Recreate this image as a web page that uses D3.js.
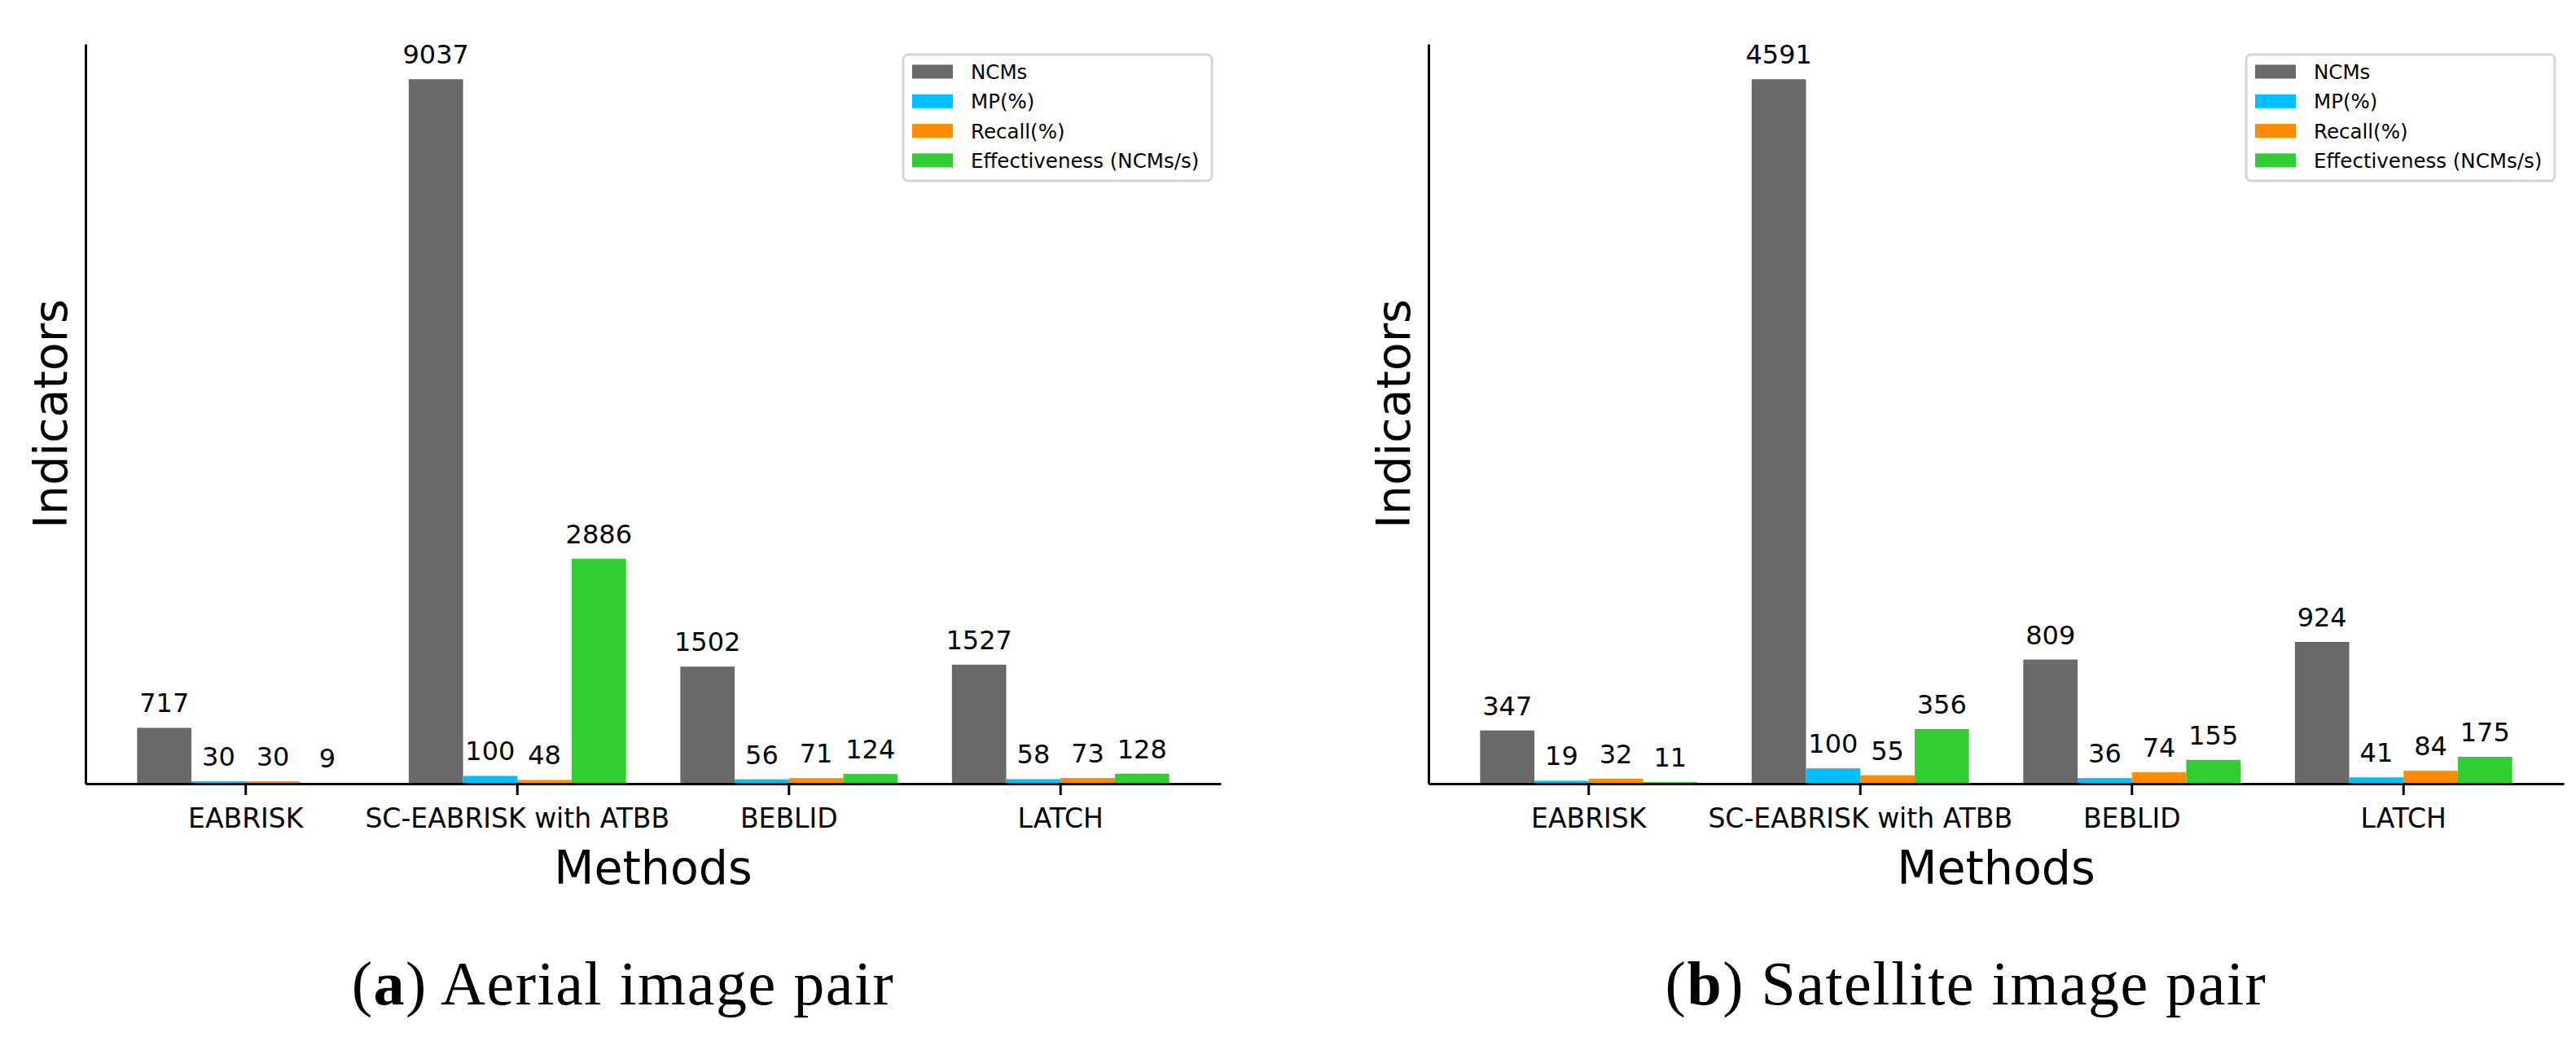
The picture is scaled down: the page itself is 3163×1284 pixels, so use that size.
<!DOCTYPE html>
<html>
<head>
<meta charset="utf-8">
<script src="https://cdn.jsdelivr.net/npm/d3@7"></script>
<style>
  body { margin: 0; background: #fff; }
  text { font-family: "DejaVu Sans", sans-serif; fill: #000; }
</style>
</head>
<body>
<div id="chart"></div>
<script>
const methods = ['EABRISK', 'SC-EABRISK with ATBB', 'BEBLID', 'LATCH'];
const seriesNames = ['NCMs', 'MP(%)', 'Recall(%)', 'Effectiveness (NCMs/s)'];
const seriesColors = ['#696969', '#00bfff', '#ff8c00', '#32cd32'];

// aerial image pair, one array per indicator
const aerialNCMs = [717, 9037, 1502, 1527];
const aerialMP = [30, 100, 56, 58];
const aerialRecall = [30, 48, 71, 73];
const aerialEff = [9, 2886, 124, 128];

// satellite image pair
const satNCMs = [347, 4591, 809, 924];
const satMP = [19, 100, 36, 41];
const satRecall = [32, 55, 74, 84];
const satEff = [11, 356, 155, 175];

const width = 3163, height = 1284;

const svg = d3.select('#chart')
    .append('svg')
    .attr('width', width)
    .attr('height', height);

function drawPanel(offsetX, seriesValues, captionLetter, captionText) {
    const left = offsetX + 105, right = offsetX + 1499;
    const top = 54, bottom = 962;

    const g = svg.append('g');

    const x0 = d3.scaleBand()
        .domain(methods)
        .range([left, right])
        .paddingInner(0.2)
        .paddingOuter(0.19);

    const x1 = d3.scaleBand()
        .domain(seriesNames)
        .range([0, x0.bandwidth()]);

    const maxVal = d3.max(seriesValues, s => d3.max(s));
    const y = d3.scaleLinear()
        .domain([0, maxVal * 1.05])
        .range([bottom, top]);

    const rows = [];
    methods.forEach((m, i) => {
        seriesNames.forEach((s, j) => {
            rows.push({ method: m, series: s, color: seriesColors[j], value: seriesValues[j][i] });
        });
    });

    g.selectAll('.bar')
        .data(rows)
        .enter().append('rect')
        .attr('class', 'bar')
        .attr('x', d => x0(d.method) + x1(d.series))
        .attr('y', d => y(d.value))
        .attr('width', x1.bandwidth())
        .attr('height', d => y(0) - y(d.value))
        .attr('fill', d => d.color);

    g.selectAll('.val')
        .data(rows)
        .enter().append('text')
        .attr('class', 'val')
        .attr('x', d => x0(d.method) + x1(d.series) + x1.bandwidth() / 2)
        .attr('y', d => y(d.value) - 19)
        .attr('text-anchor', 'middle')
        .attr('font-size', 32)
        .text(d => d.value);

    // x axis
    const xAxis = g.append('g')
        .attr('transform', `translate(0,${bottom})`)
        .call(d3.axisBottom(x0).tickSize(14).tickSizeOuter(0).tickPadding(17));
    xAxis.select('.domain').attr('stroke', '#000').attr('stroke-width', 3);
    xAxis.selectAll('.tick line').attr('stroke', '#000').attr('stroke-width', 3);
    xAxis.selectAll('.tick text')
        .attr('font-size', 33)
        .attr('font-family', '"DejaVu Sans", sans-serif')
        .attr('fill', '#000');

    // y axis: spine only
    const yAxis = g.append('g')
        .attr('transform', `translate(${left},0)`)
        .call(d3.axisLeft(y).tickValues([]).tickSizeOuter(0));
    yAxis.select('.domain').attr('stroke', '#000').attr('stroke-width', 3);

    g.append('text')
        .attr('x', (left + right) / 2)
        .attr('y', 1085)
        .attr('text-anchor', 'middle')
        .attr('font-size', 57)
        .text('Methods');

    g.append('text')
        .attr('transform', `translate(${offsetX + 82},${(top + bottom) / 2}) rotate(-90)`)
        .attr('text-anchor', 'middle')
        .attr('font-size', 57)
        .text('Indicators');

    // legend
    const lgX = right - 390, lgY = 67;
    const legend = g.append('g').attr('transform', `translate(${lgX},${lgY})`);
    legend.append('rect')
        .attr('x', 0).attr('y', 0)
        .attr('width', 379).attr('height', 155)
        .attr('rx', 6)
        .attr('fill', '#fff')
        .attr('stroke', '#d6d6d6')
        .attr('stroke-width', 3);
    const items = legend.selectAll('.lg')
        .data(seriesNames)
        .enter().append('g')
        .attr('transform', (d, i) => `translate(0,${21 + i * 36.3})`);
    items.append('rect')
        .attr('x', 11).attr('y', -8.5)
        .attr('width', 50).attr('height', 17)
        .attr('fill', (d, i) => seriesColors[i]);
    items.append('text')
        .attr('x', 83).attr('y', 9)
        .attr('font-size', 24.5)
        .text(d => d);

    // caption
    const cap = svg.append('text')
        .attr('x', offsetX + 765)
        .attr('y', 1233)
        .attr('text-anchor', 'middle')
        .attr('font-size', 76)
        .attr('letter-spacing', 1.5)
        .style('font-family', '"Liberation Serif", "DejaVu Serif", serif');
    cap.append('tspan').text('(');
    cap.append('tspan').attr('font-weight', 'bold').text(captionLetter);
    cap.append('tspan').text(') ' + captionText);
}

drawPanel(0, [aerialNCMs, aerialMP, aerialRecall, aerialEff], 'a', 'Aerial image pair');
drawPanel(1649, [satNCMs, satMP, satRecall, satEff], 'b', 'Satellite image pair');
</script>
</body>
</html>
